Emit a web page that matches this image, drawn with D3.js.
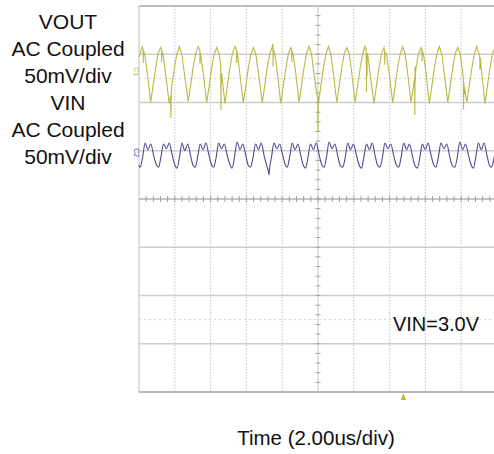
<!DOCTYPE html>
<html lang="en">
<head>
    <meta charset="UTF-8">
    <title>Output ripple</title>
    <style>
        body { margin: 0; background: #fff; }
        text { font-family: "Liberation Sans", Arial, sans-serif; }
    </style>
</head>
<body>
    <script src="https://d3js.org/d3.v7.min.js"></script>
    <div id="scope"></div>
    <script>
    // channel labels on the left, scope settings
    var labelLines = ["VOUT", "AC Coupled", "50mV/div", "VIN", "AC Coupled", "50mV/div"];
    var timeLabel = "Time (2.00us/div)";
    var noteLabel = "VIN=3.0V";
    var channelNames = ["C1", "C2"];
    var channelRefs = [132, 48];     // mV, ground marker of each channel
    var triggerTime = 4.77;          // us

    var timeDomain = [-10, 10];      // us, 10 div x 2.00us
    var voltDomain = [-200, 200];    // mV, 8 div x 50mV
    var solidLevels = [-150, -100, -50, 50, 100, 150];
    var dottedLevels = [-125, 125];
    var gridTimes = [-8, -6, -4, -2, 2, 4, 6, 8];

    // VOUT trace, [us, mV]
    var vout = [
        [-10.00,147],[-9.82,158],[-9.77,155],[-9.76,141],[-9.75,154],[-9.68,150],[-9.52,128],
        [-9.35,100],[-9.21,118],[-9.07,136],[-8.93,151],[-8.79,157],[-8.74,155],[-8.73,142],[-8.72,153],[-8.65,150],[-8.51,129],
        [-8.31,99],[-8.24,107],[-8.22,84],[-8.20,111],[-8.17,117],[-8.03,135],[-7.89,150],[-7.75,158],[-7.61,150],[-7.47,131],
        [-7.25,101],[-7.11,118],[-6.97,137],[-6.83,151],[-6.69,158],[-6.60,154],[-6.59,140],[-6.58,152],[-6.55,149],[-6.41,130],
        [-6.22,100],[-6.08,117],[-5.94,136],[-5.80,150],[-5.66,157],[-5.52,150],[-5.44,139],[-5.43,126],[-5.42,92],[-5.41,118],[-5.38,130],
        [-5.20,99],[-5.06,118],[-4.92,136],[-4.78,151],[-4.64,158],[-4.55,154],[-4.54,141],[-4.53,153],[-4.50,151],[-4.36,129],
        [-4.17,100],[-4.03,117],[-3.89,136],[-3.75,150],[-3.61,157],[-3.47,150],[-3.33,130],
        [-3.11,100],[-2.97,118],[-2.83,137],[-2.69,151],[-2.55,158],[-2.52,161],[-2.51,137],[-2.50,156],[-2.41,150],[-2.27,131],
        [-2.08,99],[-1.94,117],[-1.80,135],[-1.66,150],[-1.52,157],[-1.47,155],[-1.46,142],[-1.45,153],[-1.38,149],[-1.24,130],
        [-1.06,100],[-0.92,118],[-0.78,136],[-0.64,151],[-0.50,158],[-0.36,150],[-0.22,129],
        [-0.01,102],[0.00,70],[0.01,105],[0.02,98],[0.16,117],[0.30,136],[0.44,150],[0.58,158],[0.72,150],[0.86,130],
        [1.05,100],[1.19,118],[1.33,136],[1.47,151],[1.61,157],[1.75,150],[1.89,130],
        [2.07,100],[2.21,117],[2.35,135],[2.49,150],[2.63,158],[2.69,155],[2.70,139],[2.71,111],[2.72,146],[2.74,127],[2.75,150],[2.77,151],[2.91,129],
        [3.13,99],[3.27,118],[3.41,136],[3.55,151],[3.69,157],[3.72,153],[3.73,139],[3.74,152],[3.83,150],[3.97,131],
        [4.17,100],[4.31,117],[4.45,136],[4.59,150],[4.73,158],[4.87,150],[5.01,130],
        [5.20,100],[5.34,118],[5.40,126],[5.41,87],[5.42,137],[5.43,121],[5.45,130],[5.48,137],[5.62,151],[5.76,157],[5.80,155],[5.81,143],[5.82,154],[5.90,149],[6.04,130],
        [6.22,99],[6.36,117],[6.50,136],[6.64,150],[6.78,158],[6.92,150],[7.06,129],
        [7.25,100],[7.39,118],[7.53,136],[7.67,151],[7.81,157],[7.95,150],[8.09,130],[8.12,124],[8.13,93],[8.15,121],[8.17,108],[8.19,116],
        [8.31,100],[8.45,117],[8.59,135],[8.73,150],[8.87,158],[9.01,150],[9.04,146],[9.05,134],[9.06,147],[9.15,130],
        [9.33,99],[9.47,118],[9.61,136],[9.75,151],[9.89,157],[10.00,154]
    ];

    // VIN trace, [us, mV]
    var vin = [
        [-10.00,35],
        [-9.94,33],[-9.80,43],[-9.66,58],[-9.50,51],[-9.34,57],[-9.18,45],[-9.04,36],
        [-8.91,33],[-8.77,44],[-8.63,57],[-8.47,52],[-8.31,58],[-8.15,46],[-8.01,36],
        [-7.88,32],[-7.74,43],[-7.60,58],[-7.44,50],[-7.28,57],[-7.12,45],[-6.98,35],
        [-6.86,33],[-6.72,44],[-6.58,57],[-6.42,51],[-6.26,58],[-6.10,46],[-5.96,36],
        [-5.83,33],[-5.69,43],[-5.55,58],[-5.39,52],[-5.23,57],[-5.07,45],[-4.93,36],
        [-4.80,32],[-4.66,44],[-4.52,59],[-4.36,51],[-4.20,57],[-4.04,46],[-3.90,35],
        [-3.77,33],[-3.63,43],[-3.49,57],[-3.33,51],[-3.17,58],[-3.01,45],[-2.87,35],
        [-2.77,28],[-2.74,25],[-2.71,31],[-2.60,43],[-2.46,58],[-2.30,52],[-2.14,57],[-1.98,46],[-1.84,36],
        [-1.72,33],[-1.58,44],[-1.44,58],[-1.28,51],[-1.12,57],[-0.96,45],[-0.82,35],
        [-0.70,32],[-0.56,43],[-0.42,57],[-0.26,51],[-0.10,58],[0.06,46],[0.20,36],
        [0.34,33],[0.48,44],[0.62,59],[0.78,52],[0.94,57],[1.10,45],[1.24,35],
        [1.38,33],[1.52,43],[1.66,58],[1.82,51],[1.98,57],[2.14,46],[2.28,36],
        [2.43,32],[2.57,44],[2.71,57],[2.87,51],[3.03,58],[3.19,45],[3.33,35],
        [3.46,33],[3.60,43],[3.74,58],[3.90,52],[4.06,57],[4.22,46],[4.36,36],
        [4.51,33],[4.65,44],[4.79,58],[4.95,51],[5.11,57],[5.27,45],[5.41,35],
        [5.55,32],[5.69,43],[5.83,57],[5.99,51],[6.15,58],[6.31,46],[6.45,36],
        [6.59,33],[6.73,44],[6.87,58],[7.03,52],[7.19,57],[7.35,45],[7.49,35],
        [7.64,33],[7.78,43],[7.92,59],[8.08,51],[8.24,57],[8.40,46],[8.54,36],
        [8.68,32],[8.82,44],[8.96,58],[9.12,51],[9.28,58],[9.44,45],[9.58,35],
        [9.70,33],[9.84,43],[9.98,57],[10.00,57]
    ];

    var width = 494,
        height = 454,
        plotLeft = 139, plotRight = 497,
        plotTop = 6, plotBottom = 392;

    var voutColor = "#b9b944",
        vinColor = "#4a4a92";

    var svg = d3.select("#scope")
        .append("svg")
        .attr("width", width)
        .attr("height", height);

    var x = d3.scaleLinear().domain(timeDomain).range([plotLeft, plotRight]);
    var y = d3.scaleLinear().domain(voltDomain).range([plotBottom, plotTop]);

    var grid = svg.append("g");

    // dotted vertical divisions
    grid.selectAll(".vgrid")
        .data(gridTimes)
        .enter().append("line")
        .attr("x1", function(d) { return x(d); })
        .attr("x2", function(d) { return x(d); })
        .attr("y1", plotTop).attr("y2", plotBottom)
        .attr("stroke", "#cccccc")
        .attr("stroke-width", 1.2)
        .attr("stroke-dasharray", "1.5,1.5");

    grid.selectAll(".hdot")
        .data(dottedLevels)
        .enter().append("line")
        .attr("x1", plotLeft).attr("x2", plotRight)
        .attr("y1", function(d) { return y(d); })
        .attr("y2", function(d) { return y(d); })
        .attr("stroke", "#d2d2d2")
        .attr("stroke-dasharray", "2,3");

    grid.selectAll(".hgrid")
        .data(solidLevels)
        .enter().append("line")
        .attr("x1", plotLeft).attr("x2", plotRight)
        .attr("y1", function(d) { return y(d); })
        .attr("y2", function(d) { return y(d); })
        .attr("stroke", "#cdcdcd")
        .attr("stroke-width", 1.3);

    // frame
    grid.append("line").attr("x1", plotLeft).attr("x2", plotLeft).attr("y1", plotTop).attr("y2", plotBottom)
        .attr("stroke", "#cccccc").attr("stroke-width", 1.3);
    grid.append("line").attr("x1", plotLeft).attr("x2", plotRight).attr("y1", plotTop).attr("y2", plotTop)
        .attr("stroke", "#a8a8a8").attr("stroke-width", 1.3);
    grid.append("line").attr("x1", plotLeft).attr("x2", plotRight).attr("y1", plotBottom).attr("y2", plotBottom)
        .attr("stroke", "#a0a0a0").attr("stroke-width", 1.3);

    // center cross with minor ticks
    grid.append("line").attr("x1", x(0)).attr("x2", x(0)).attr("y1", plotTop).attr("y2", plotBottom)
        .attr("stroke", "#c8c8c8");
    grid.append("line").attr("x1", plotLeft).attr("x2", plotRight).attr("y1", y(0)).attr("y2", y(0))
        .attr("stroke", "#909090").attr("stroke-width", 1.1);

    grid.selectAll(".xtick")
        .data(d3.range(timeDomain[0] + 0.4, timeDomain[1], 0.4))
        .enter().append("line")
        .attr("x1", function(d) { return x(d); })
        .attr("x2", function(d) { return x(d); })
        .attr("y1", y(0) - 3).attr("y2", y(0) + 3)
        .attr("stroke", "#a0a0a0");

    grid.selectAll(".ytick")
        .data(d3.range(voltDomain[0] + 10, voltDomain[1], 10))
        .enter().append("line")
        .attr("x1", x(0) - 2.5).attr("x2", x(0) + 2.5)
        .attr("y1", function(d) { return y(d); })
        .attr("y2", function(d) { return y(d); })
        .attr("stroke", "#a0a0a0");

    // traces
    var line = d3.line()
        .x(function(d) { return x(d[0]); })
        .y(function(d) { return y(d[1]); });

    svg.append("path")
        .datum(vin)
        .attr("fill", "none")
        .attr("stroke", vinColor)
        .attr("stroke-width", 1.1)
        .attr("d", line.curve(d3.curveMonotoneX));

    svg.append("path")
        .datum(vout)
        .attr("fill", "none")
        .attr("stroke", voutColor)
        .attr("stroke-width", 1.1)
        .attr("d", line.curve(d3.curveLinear));

    // channel ground markers
    svg.selectAll(".chan")
        .data(channelNames)
        .enter().append("text")
        .attr("transform", function(d, i) { return "translate(" + (plotLeft - 5) + "," + y(channelRefs[i]) + ")rotate(90)"; })
        .attr("text-anchor", "middle")
        .attr("font-size", 7)
        .attr("fill", function(d, i) { return i == 0 ? voutColor : vinColor; })
        .text(function(d) { return d; });

    // trigger marker
    svg.append("path")
        .attr("d", "M" + x(triggerTime) + "," + (plotBottom + 1) + "l-2.5,7h5z")
        .attr("fill", "#c9b52a");

    // texts
    svg.selectAll(".lbl")
        .data(labelLines)
        .enter().append("text")
        .attr("x", 68)
        .attr("y", function(d, i) { return 28.5 + i * 27; })
        .attr("text-anchor", "middle")
        .attr("font-size", 21)
        .attr("fill", "#111")
        .text(function(d) { return d; });

    svg.append("text")
        .attr("x", 436).attr("y", 331)
        .attr("text-anchor", "middle")
        .attr("font-size", 20)
        .attr("fill", "#111")
        .text(noteLabel);

    svg.append("text")
        .attr("x", 316).attr("y", 445)
        .attr("text-anchor", "middle")
        .attr("font-size", 20.5)
        .attr("fill", "#111")
        .text(timeLabel);
    </script>
</body>
</html>
